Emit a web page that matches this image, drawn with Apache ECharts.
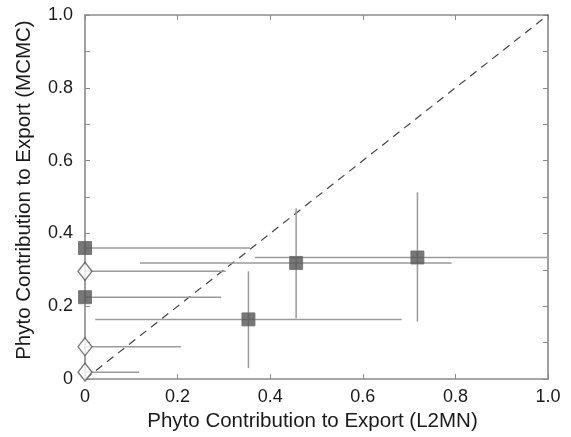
<!DOCTYPE html>
<html>
<head>
<meta charset="utf-8">
<script src="https://cdn.jsdelivr.net/npm/echarts@6/dist/echarts.min.js"></script>
<style>
html, body { margin: 0; padding: 0; background: #fff; }
#chart { width: 571px; height: 437px; }
</style>
</head>
<body>
<div id="chart"></div>
<script>
// Phyto contribution to export: L2MN estimate (x) vs MCMC estimate (y)
const l2mn  = [0, 0, 0, 0, 0, 0.353, 0.456, 0.718];
const mcmc  = [0.36, 0.296, 0.225, 0.089, 0.019, 0.164, 0.319, 0.334];
const kind  = ['filled', 'open', 'filled', 'open', 'open', 'filled', 'filled', 'filled'];
// error ranges
const xLow  = [0, 0, 0, 0, 0, 0.022, 0.119, 0.367];
const xHigh = [0.356, 0.304, 0.294, 0.207, 0.117, 0.684, 0.792, 1.0];
const yLow  = [null, null, null, null, null, 0.03, 0.167, 0.158];
const yHigh = [null, null, null, null, null, 0.296, 0.469, 0.513];
const xTicks = [0, 0.2, 0.4, 0.6, 0.8, 1.0];
const yTicks = [0, 0.2, 0.4, 0.6, 0.8, 1.0];

const fmt = v => (Math.abs(v) < 1e-9 ? '0' : v.toFixed(1));
const isMajor = (v, list) => list.some(t => Math.abs(t - v) < 1e-6);

const errData = l2mn.map((x, i) => [x, mcmc[i], xLow[i], xHigh[i], yLow[i], yHigh[i]]);
const filledPts = l2mn.map((x, i) => [x, mcmc[i]]).filter((_, i) => kind[i] === 'filled');
const openPts = l2mn.map((x, i) => [x, mcmc[i]]).filter((_, i) => kind[i] === 'open');

const axisGray = '#8a8a8a';
const textColor = '#1a1a1a';
const font = 'Liberation Sans, Arial, sans-serif';

const frameAxis = (extra) => Object.assign({
  type: 'value', min: 0, max: 1,
  axisLine: { show: true, onZero: false, lineStyle: { color: axisGray, width: 1.6 } },
  axisTick: { show: true, inside: true, length: 5, lineStyle: { color: axisGray, width: 1 } },
  splitLine: { show: false }
}, extra);

const chart = echarts.init(document.getElementById('chart'));
chart.setOption({
  animation: false,
  grid: { left: 85, right: 23, top: 15, bottom: 56 },
  xAxis: [
    frameAxis({
      interval: 0.2, position: 'bottom',
      name: 'Phyto Contribution to Export (L2MN)', nameLocation: 'middle', nameGap: 28,
      nameTextStyle: { fontFamily: font, fontSize: 20.5, color: textColor, padding: [0, 8, 0, 0] },
      axisLabel: { fontFamily: font, fontSize: 18, color: textColor, margin: 9,
        formatter: v => (isMajor(v, xTicks) ? fmt(v) : '') }
    }),
    frameAxis({ interval: 0.2, position: 'top', axisLabel: { show: false } })
  ],
  yAxis: [
    frameAxis({
      interval: 0.1, position: 'left',
      name: 'Phyto Contribution to Export (MCMC)', nameLocation: 'middle', nameGap: 50,
      nameTextStyle: { fontFamily: font, fontSize: 20.5, color: textColor, padding: [0, 0, 0, 14] },
      axisLabel: { fontFamily: font, fontSize: 18, color: textColor, margin: 12,
        formatter: v => (isMajor(v, yTicks) ? fmt(v) : '') }
    }),
    frameAxis({ interval: 0.1, position: 'right', axisLabel: { show: false } })
  ],
  series: [
    {
      // 1:1 reference line
      type: 'line', data: [[0, 0], [1, 1]], symbol: 'none', silent: true,
      lineStyle: { color: '#444', width: 1.2, type: [8, 6] }, z: 1
    },
    {
      // error bars
      type: 'custom', z: 2, silent: true,
      data: errData,
      renderItem: (params, api) => {
        const x = api.value(0), y = api.value(1);
        const children = [];
        const a = api.coord([api.value(2), y]);
        const b = api.coord([api.value(3), y]);
        children.push({ type: 'line', shape: { x1: a[0], y1: a[1], x2: b[0], y2: b[1] },
          style: { stroke: '#9a9a9a', lineWidth: 1.5 } });
        const lo = api.value(4), hi = api.value(5);
        if (lo != null && hi != null && !isNaN(lo) && !isNaN(hi)) {
          const c = api.coord([x, lo]);
          const d = api.coord([x, hi]);
          children.push({ type: 'line', shape: { x1: c[0], y1: c[1], x2: d[0], y2: d[1] },
            style: { stroke: '#9a9a9a', lineWidth: 1.5 } });
        }
        return { type: 'group', children };
      }
    },
    {
      type: 'scatter', data: openPts, symbol: 'diamond', symbolSize: [14, 18], z: 3,
      itemStyle: { color: '#fff', borderColor: '#5a5a5a', borderWidth: 1.4 }
    },
    {
      type: 'scatter', data: filledPts, symbol: 'rect', symbolSize: 13, z: 3,
      itemStyle: { color: '#555', borderColor: '#6a6a6a', borderWidth: 1 }
    }
  ]
});
</script>
</body>
</html>
